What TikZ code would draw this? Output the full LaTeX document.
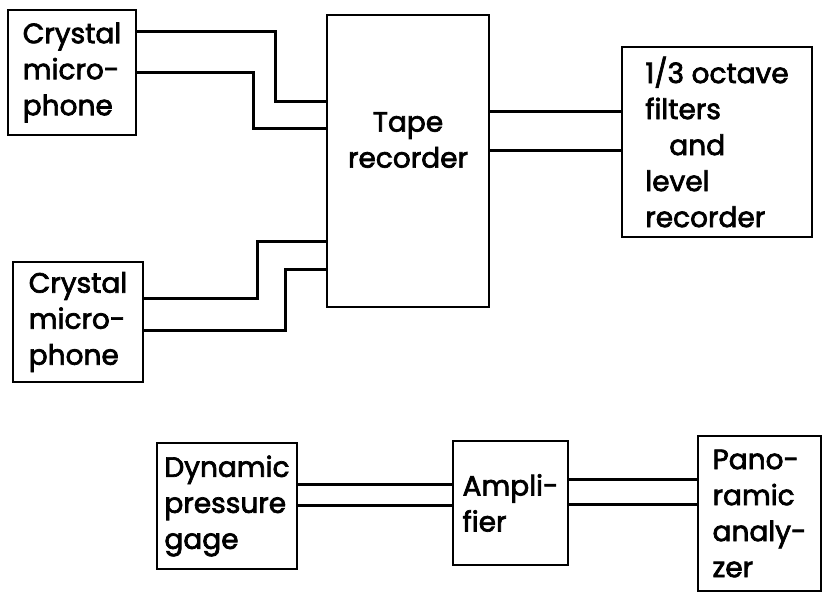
\documentclass[tikz,border=0pt]{standalone}
\usepackage{fontspec}
\setmainfont{Poppins}[FakeBold=2.5]
\usepackage{tikz}
\usetikzlibrary{positioning}
\newcommand{\boxfont}{\fontsize{28}{36}\selectfont}
\tikzset{
  box/.style={draw, line width=2.8pt, inner sep=0pt, align=left, font=\boxfont},
  boxtext/.style={inner sep=0pt, align=center, font=\boxfont},
  wire/.style={line width=2.8pt},
}
\begin{document}
\begin{tikzpicture}[x=1pt, y=-1pt]
  \useasboundingbox (0,0) rectangle (823,594);
  \node[box, minimum width=128pt, minimum height=125pt] (micA) at (72,72.5) {Crystal\\micro-\\phone};
  \node[box, minimum width=130pt, minimum height=120pt] (micB) at (78,322) {Crystal\\micro-\\phone};
  \node[box, minimum width=162pt, minimum height=292pt] (tape) at (408,161) {};
  \node[boxtext] (tapetext) at (408,140) {Tape\\recorder};
  \node[box, minimum width=190pt, minimum height=190pt] (filt) at (717,142) {1/3 octave\\filters\\\hspace*{24pt}and\\level\\recorder};
  \node[box, minimum width=140pt, minimum height=126pt] (dyn) at (227,506) {Dynamic\\pressure\\gage};
  \node[box, minimum width=115pt, minimum height=124pt] (amp) at (510.5,503) {Ampli-\\fier};
  \node[box, minimum width=123pt, minimum height=155pt] (pano) at (759.5,513.5) {Pano-\\ramic\\analy-\\zer};

  \draw[wire] ([yshift=-23pt]micA.north east) -| ([xshift=-50pt,yshift=-88pt]tape.north west) -- ([yshift=-88pt]tape.north west);
  \draw[wire] ([yshift=-64pt]micA.north east) -| ([xshift=-72pt,yshift=-115pt]tape.north west) -- ([yshift=-115pt]tape.north west);
  \draw[wire] ([yshift=-38pt]micB.north east) -| ([xshift=-68pt,yshift=-228pt]tape.north west) -- ([yshift=-228pt]tape.north west);
  \draw[wire] ([yshift=-70pt]micB.north east) -| ([xshift=-40pt,yshift=-256pt]tape.north west) -- ([yshift=-256pt]tape.north west);
  \draw[wire] ([yshift=-98pt]tape.north east) -- ([yshift=-66pt]filt.north west);
  \draw[wire] ([yshift=-137pt]tape.north east) -- ([yshift=-105pt]filt.north west);
  \draw[wire] ([yshift=-43pt]dyn.north east) -- ([yshift=-45pt]amp.north west);
  \draw[wire] ([yshift=-64pt]dyn.north east) -- ([yshift=-66pt]amp.north west);
  \draw[wire] ([yshift=-40pt]amp.north east) -- ([yshift=-45pt]pano.north west);
  \draw[wire] ([yshift=-65pt]amp.north east) -- ([yshift=-70pt]pano.north west);
\end{tikzpicture}
\end{document}
